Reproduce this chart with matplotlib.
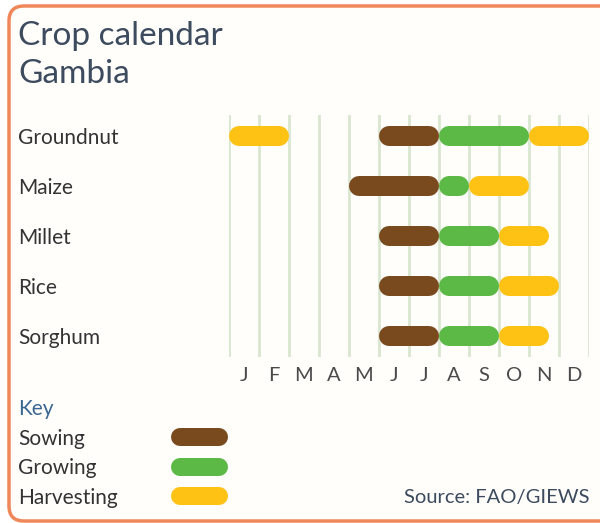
import matplotlib
matplotlib.use("Agg")
import matplotlib.pyplot as plt
from matplotlib.patches import FancyBboxPatch
from matplotlib.lines import Line2D

# Crop calendar data (months: 0 = start of Jan, 12 = end of Dec)
crops = ["Groundnut", "Maize", "Millet", "Rice", "Sorghum"]
months = ["J", "F", "M", "A", "M", "J", "J", "A", "S", "O", "N", "D"]
sowing = [[(5, 7)], [(4, 7)], [(5, 7)], [(5, 7)], [(5, 7)]]
growing = [[(7, 10)], [(7, 8)], [(7, 9)], [(7, 9)], [(7, 9)]]
harvesting = [[(0, 2), (10, 12)], [(8, 10)], [(9, 10.67)], [(9, 11)], [(9, 10.67)]]

key_labels = ["Sowing", "Growing", "Harvesting"]
colors = ["#7a4a1f", "#5cb946", "#fdc213"]

W, H = 600, 523
plt.rcParams["font.family"] = ["Lato", "DejaVu Sans"]

fig = plt.figure(figsize=(W / 100, H / 100), dpi=100)
fig.patch.set_facecolor("white")


def fx(x):
    return x / W


def fy(y):
    return 1 - y / H


# rounded frame (inches so the corners stay round), runs off the right edge
frame = FancyBboxPatch((0.09, 0.02), 6.5, 5.15,
                       boxstyle="round,pad=0,rounding_size=0.15",
                       transform=fig.dpi_scale_trans,
                       facecolor="#fffefb", edgecolor="#f0875a", lw=2.5,
                       zorder=-10)
fig.patches.append(frame)

# title
title_c = "#3d4b5e"
fig.text(fx(18), fy(36), "Crop calendar", fontsize=24, color=title_c, va="center")
fig.text(fx(18), fy(74), "Gambia", fontsize=24, color=title_c, va="center")

# chart axes
ax = fig.add_axes([fx(229), fy(357), 360 / W, 242 / H], zorder=5)
ax.set_xlim(0, 12)
ax.set_ylim(4 + 21 / 50, -21 / 50)
ax.axis("off")
ax.patch.set_alpha(0)

for m in range(13):
    ax.axvline(m, color="#d9e6d0", lw=2.0, zorder=1)

px_per_month = 30
bar_px = 20
lw_pt = bar_px * 72 / 100
r = (bar_px / 2) / px_per_month

for phases, col in zip([sowing, growing, harvesting], colors):
    for i, segs in enumerate(phases):
        for a, b in segs:
            x0, x1 = a + r, b - r
            if x1 < x0:
                x0 = x1 = (a + b) / 2
            ax.plot([x0, x1], [i, i], color=col, lw=lw_pt,
                    solid_capstyle="round", zorder=3)

text_c = "#333333"
for i, crop in enumerate(crops):
    fig.text(fx(18), fy(138 + 50 * i), crop, fontsize=15, color=text_c, va="center")

for j, m in enumerate(months):
    ax.text(j + 0.5, 4 + (375 - 336) / 50, m, fontsize=14.5, color="#4a4a4a",
            ha="center", va="center", clip_on=False)

# key
fig.text(fx(18), fy(409), "Key", fontsize=15, color="#3a6791", va="center")
for k, (lab, col) in enumerate(zip(key_labels, colors)):
    yk = 439 + 29.5 * k
    fig.text(fx(18), fy(yk), lab, fontsize=15, color=text_c, va="center")
    fig.add_artist(Line2D([fx(180), fx(219)], [fy(yk - 2), fy(yk - 2)],
                          color=col, lw=18 * 72 / 100, solid_capstyle="round",
                          transform=fig.transFigure))

fig.text(fx(590), fy(497), "Source: FAO/GIEWS", fontsize=14.5, color="#3d4b5e",
         ha="right", va="center")

fig.savefig("out.png", dpi=100)
